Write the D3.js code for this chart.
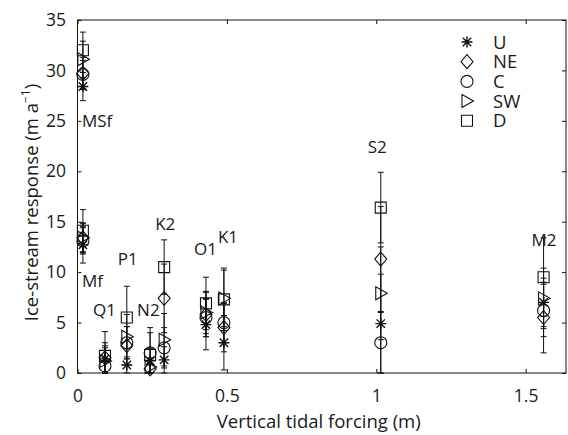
<!DOCTYPE html>
<html>
<head>
<meta charset="utf-8">
<script src="https://cdn.jsdelivr.net/npm/d3@7"></script>
<style>
  html, body { margin: 0; padding: 0; background: #fff; }
  svg { display: block; }
  text { font-family: "Open Sans", "Noto Sans", sans-serif; fill: #1a1a1a; }
</style>
</head>
<body>
<svg id="chart" width="568" height="435"></svg>
<script>
// ---------------- data ----------------
const constituents = ["MSf", "Mf", "Q1", "P1", "N2", "K2", "O1", "K1", "S2", "M2"];
const forcing      = [0.018, 0.018, 0.092, 0.165, 0.243, 0.29, 0.43, 0.49, 1.015, 1.56];

const seriesNames = ["U", "NE", "C", "SW", "D"];

// response values (m a^-1) per series, in constituent order
const valU  = [28.4, 12.7, 1.4, 0.8, 1.2, 1.3, 4.8, 3.0, 4.9, 7.0];
const valNE = [29.7, 13.4, 1.5, 2.7, 0.4, 7.4, 5.8, 4.5, 11.3, 5.5];
const valC  = [29.6, 13.1, 0.7, 3.0, 2.0, 2.5, 5.5, 5.0, 3.0, 6.2];
const valSW = [31.1, 13.4, 1.2, 3.6, 0.6, 3.3, 6.0, 7.4, 7.9, 7.4];
const valD  = [32.0, 14.1, 1.7, 5.5, 1.8, 10.5, 6.9, 7.3, 16.4, 9.5];

// error half-widths per series
const errU  = [1.4, 1.8, 1.3, 0.8, 1.2, 1.3, 2.5, 2.7, 4.9, 2.4];
const errNE = [1.6, 1.5, 1.5, 1.9, 0.4, 3.4, 2.2, 2.4, 5.2, 3.5];
const errC  = [1.4, 1.3, 0.8, 1.6, 2.0, 2.0, 1.9, 2.0, 3.0, 2.6];
const errSW = [1.8, 1.4, 1.3, 2.2, 0.9, 2.6, 2.1, 2.8, 4.6, 3.0];
const errD  = [1.8, 2.1, 2.4, 3.1, 2.7, 2.7, 2.6, 3.1, 3.5, 3.9];

const xTicks = [0, 0.5, 1, 1.5];
const xTickLabels = ["0", "0.5", "1", "1.5"];
const yTicks = [0, 5, 10, 15, 20, 25, 30, 35];
const yTickLabels = ["0", "5", "10", "15", "20", "25", "30", "35"];

// ---------------- layout ----------------
const svg = d3.select("#chart");
const pL = 77.5, pR = 566, pT = 20, pB = 373;

const x = d3.scaleLinear().domain([0, 1.635]).range([pL, pR]);
const y = d3.scaleLinear().domain([0, 35]).range([pB, pT]);

const tickFont = 17.5, titleFont = 18.5, legendFont = 18.5, labelFont = 17;

// frame
svg.append("rect")
  .attr("x", pL).attr("y", pT)
  .attr("width", pR - pL).attr("height", pB - pT)
  .attr("fill", "none").attr("stroke", "#111").attr("stroke-width", 1);

// axes
const gx = svg.append("g").attr("transform", `translate(0,${pB})`)
  .call(d3.axisBottom(x).tickValues(xTicks)
    .tickFormat((d, i) => xTickLabels[i]).tickSizeInner(-4).tickSizeOuter(0).tickPadding(16.5));
const gxt = svg.append("g").attr("transform", `translate(0,${pT})`)
  .call(d3.axisTop(x).tickValues(xTicks).tickFormat("").tickSizeInner(-4).tickSizeOuter(0));
const gy = svg.append("g").attr("transform", `translate(${pL},0)`)
  .call(d3.axisLeft(y).tickValues(yTicks)
    .tickFormat((d, i) => yTickLabels[i]).tickSizeInner(-4).tickSizeOuter(0).tickPadding(11.5));
const gyr = svg.append("g").attr("transform", `translate(${pR},0)`)
  .call(d3.axisRight(y).tickValues(yTicks).tickFormat("").tickSizeInner(-4).tickSizeOuter(0));

[gx, gxt, gy, gyr].forEach(g => {
  g.select(".domain").remove();
  g.selectAll(".tick line").attr("stroke", "#111");
  g.selectAll("text").style("font-size", tickFont + "px")
    .style("font-family", '"Open Sans", "Noto Sans", sans-serif').attr("fill", "#1a1a1a");
});

// axis titles
svg.append("text")
  .attr("x", (pL + pR) / 2 - 3).attr("y", 428)
  .attr("text-anchor", "middle").style("font-size", titleFont + "px")
  .text("Vertical tidal forcing (m)");

const yl = svg.append("text")
  .attr("transform", `translate(38,${(pT + pB) / 2 + 6}) rotate(-90)`)
  .attr("text-anchor", "middle").style("font-size", titleFont + "px");
yl.append("tspan").text("Ice-stream response (m a");
yl.append("tspan").attr("dy", -8).style("font-size", "12px").text("\u22121");
yl.append("tspan").attr("dy", 8).text(")");

// ---------------- marker shapes ----------------
function markerPath(name) {
  const p = d3.path();
  if (name === "U") {
    const r = 5.5, r2 = 4.2;
    p.moveTo(-r, 0); p.lineTo(r, 0);
    p.moveTo(0, -r); p.lineTo(0, r);
    p.moveTo(-r2, -r2); p.lineTo(r2, r2);
    p.moveTo(-r2, r2); p.lineTo(r2, -r2);
  } else if (name === "NE") {
    p.moveTo(0, -7); p.lineTo(6, 0); p.lineTo(0, 7); p.lineTo(-6, 0); p.closePath();
  } else if (name === "C") {
    p.moveTo(6, 0); p.arc(0, 0, 6, 0, 2 * Math.PI);
  } else if (name === "SW") {
    p.moveTo(-5, -6.5); p.lineTo(6.5, 0); p.lineTo(-5, 6.5); p.closePath();
  } else {
    p.rect(-5.5, -5.5, 11, 11);
  }
  return p.toString();
}

const seriesVals = { U: valU, NE: valNE, C: valC, SW: valSW, D: valD };
const seriesErr  = { U: errU, NE: errNE, C: errC, SW: errSW, D: errD };

// ---------------- error bars ----------------
const eg = svg.append("g").attr("stroke", "#111").attr("stroke-width", 1).attr("fill", "none");
seriesNames.forEach(s => {
  constituents.forEach((c, i) => {
    const v = seriesVals[s][i], e = seriesErr[s][i];
    const lo = Math.max(0, v - e), hi = v + e;
    const cx = x(forcing[i]);
    eg.append("line").attr("x1", cx).attr("x2", cx).attr("y1", y(lo)).attr("y2", y(hi));
    eg.append("line").attr("x1", cx - 3).attr("x2", cx + 3).attr("y1", y(lo)).attr("y2", y(lo));
    eg.append("line").attr("x1", cx - 3).attr("x2", cx + 3).attr("y1", y(hi)).attr("y2", y(hi));
  });
});

// ---------------- markers ----------------
const mg = svg.append("g");
seriesNames.forEach(s => {
  constituents.forEach((c, i) => {
    mg.append("path")
      .attr("d", markerPath(s))
      .attr("transform", `translate(${x(forcing[i])},${y(seriesVals[s][i])})`)
      .attr("fill", "none").attr("stroke", "#111")
      .attr("stroke-width", s === "U" ? 1.4 : 1.1);
  });
});

// ---------------- constituent labels ----------------
const labelPlace = {
  MSf: [-1, 24.4], Mf: [-1, 8.5], Q1: [-12, 5.65], P1: [-9, 10.7], N2: [-13, 5.65],
  K2: [-9, 14.2], O1: [-12, 11.7], K1: [-6, 12.9], S2: [-13, 21.8], M2: [-12, 12.6]
};
constituents.forEach((c, i) => {
  const pl = labelPlace[c];
  svg.append("text")
    .attr("x", x(forcing[i]) + pl[0]).attr("y", y(pl[1]))
    .style("font-size", labelFont + "px")
    .text(c);
});

// ---------------- legend ----------------
const lg = svg.append("g").attr("transform", "translate(467,42)");
seriesNames.forEach((s, i) => {
  const row = lg.append("g").attr("transform", `translate(0,${i * 19.7})`);
  row.append("path").attr("d", markerPath(s))
    .attr("fill", "none").attr("stroke", "#111").attr("stroke-width", s === "U" ? 1.4 : 1.1);
  row.append("text").attr("x", 26).attr("y", 6.5)
    .style("font-size", legendFont + "px").text(s);
});
</script>
</body>
</html>
